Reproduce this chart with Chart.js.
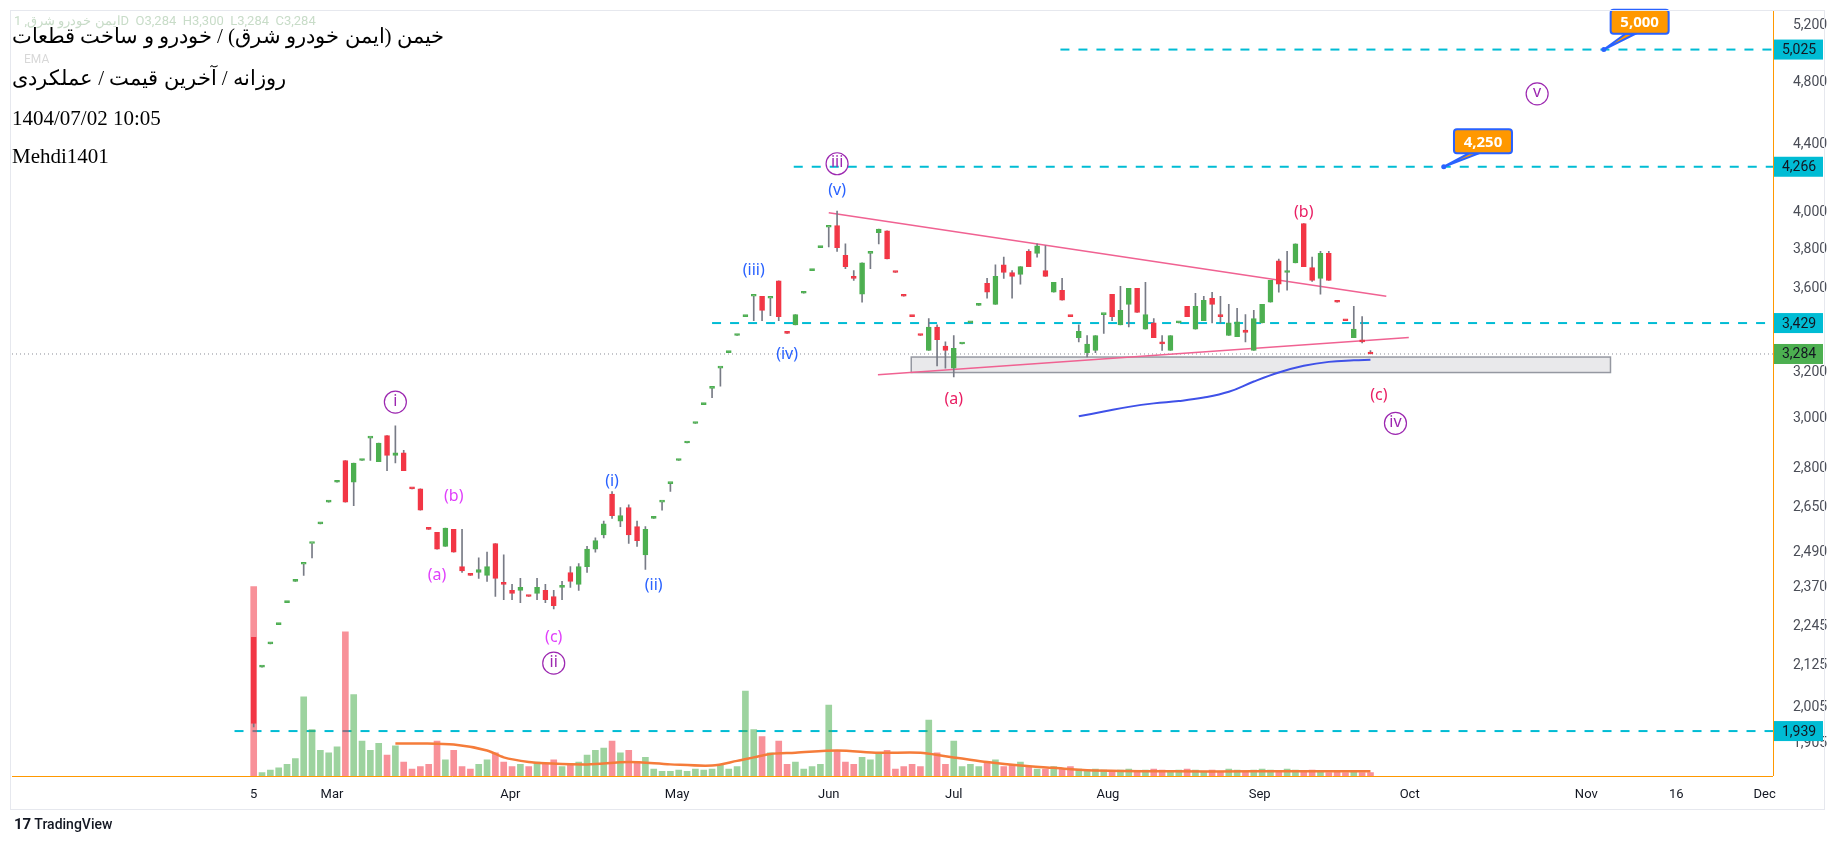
<!DOCTYPE html>
<html>
<head>
<meta charset="utf-8">
<script src="https://cdn.jsdelivr.net/npm/chart.js@4.4.0/dist/chart.umd.min.js"></script>
<style>
  html, body { margin:0; padding:0; background:#fff; }
  #wrap { position:relative; width:1836px; height:843px; overflow:hidden; font-family:Roboto, "Noto Sans", sans-serif; }
  #c { position:absolute; left:0; top:0; }
  .frame { position:absolute; left:10px; top:10px; width:1815px; height:800px; border:1px solid #e6e8ee; box-sizing:border-box; pointer-events:none; }
  .legend { position:absolute; left:12px; font-family:"Liberation Serif", serif; font-size:21px; color:#000; }
  .faint { position:absolute; left:14px; top:13px; font-size:13px; color:#c8dcc8; }
  .faint2 { position:absolute; left:24px; font-size:12px; color:#d8d8d8; }
  .tv { position:absolute; left:14px; top:815px; font-size:14px; color:#131722; font-weight:500; }
</style>
</head>
<body>
<div id="wrap">
  <canvas id="c" width="1836" height="843"></canvas>
  <div class="frame"></div>
  <div class="faint"><span dir="rtl">ایمن خودرو شرق, 1</span>D&nbsp; O3,284&nbsp; H3,300&nbsp; L3,284&nbsp; C3,284</div>
  <div class="faint2" style="top:52px">EMA</div>
  <div class="legend" style="top:24px" dir="rtl">خیمن (ایمن خودرو شرق) / خودرو و ساخت قطعات</div>
  <div class="legend" style="top:66px" dir="rtl">روزانه / آخرین قیمت / عملکردی</div>
  <div class="legend" style="top:106px">1404/07/02 10:05</div>
  <div class="legend" style="top:144px">Mehdi1401</div>
  <div class="tv"><b style="font-size:15px">17</b> TradingView</div>
</div>
<script>
'use strict';

// daily candles (bar index 0 .. 134)
const opens = [2210,2120,2190,2250,2320,2390,2448,2520,2590,2670,2745,2830,2745,2830,2920,2825,2930,2850,2860,2720,
  2720,2570,2560,2510,2570,2440,2410,2420,2410,2520,2380,2360,2360,2340,2350,2360,2340,2370,2420,2380,
  2440,2500,2550,2700,2600,2650,2580,2480,2610,2670,2740,2830,2900,2980,3060,3130,3220,3290,3370,3460,
  3560,3560,3550,3638,3380,3420,3575,3690,3810,3920,3930,3770,3650,3570,3780,3890,3900,3680,3560,3460,
  3370,3300,3410,3320,3220,3330,3430,3515,3625,3520,3720,3680,3670,3790,3780,3690,3580,3590,3460,3360,
  3290,3300,3470,3570,3420,3520,3600,3400,3430,3340,3300,3430,3510,3400,3440,3550,3470,3370,3365,3395,
  3300,3430,3530,3740,3680,3730,3940,3705,3650,3780,3530,3440,3360,3340,3284];
const highs = [2210,2120,2190,2250,2320,2390,2448,2520,2590,2670,2745,2830,2820,2830,2920,2900,2930,2970,2870,2720,
  2720,2570,2560,2575,2570,2570,2410,2470,2490,2520,2480,2380,2400,2340,2400,2380,2360,2390,2440,2450,
  2510,2540,2600,2710,2650,2660,2600,2580,2610,2670,2740,2830,2900,2980,3060,3130,3220,3290,3370,3460,
  3560,3560,3550,3638,3380,3470,3575,3690,3810,3920,4010,3830,3690,3730,3780,3910,3900,3680,3560,3460,
  3370,3450,3420,3340,3370,3330,3430,3515,3650,3720,3760,3690,3710,3800,3830,3820,3630,3650,3460,3420,
  3370,3370,3470,3570,3610,3600,3600,3630,3450,3370,3370,3430,3510,3575,3560,3580,3560,3520,3500,3470,
  3490,3520,3640,3750,3790,3830,3940,3760,3790,3790,3530,3440,3510,3460,3300];
const lows = [1950,2120,2190,2250,2320,2390,2410,2470,2590,2670,2745,2670,2657,2830,2830,2825,2790,2820,2790,2720,
  2640,2570,2500,2510,2490,2420,2410,2400,2390,2340,2330,2330,2320,2340,2330,2320,2300,2330,2370,2360,
  2420,2490,2540,2610,2580,2520,2510,2430,2610,2640,2710,2830,2900,2980,3060,3090,3140,3290,3370,3460,
  3440,3440,3465,3440,3380,3420,3575,3690,3810,3814,3790,3700,3640,3530,3700,3830,3750,3680,3560,3460,
  3370,3300,3230,3220,3180,3330,3430,3515,3550,3520,3650,3550,3620,3710,3760,3660,3580,3540,3460,3340,
  3270,3290,3380,3440,3420,3410,3480,3400,3360,3300,3300,3430,3460,3400,3440,3430,3430,3370,3365,3340,
  3300,3430,3530,3580,3590,3730,3710,3635,3570,3640,3530,3440,3360,3335,3284];
const closes = [1960,2120,2190,2250,2320,2390,2448,2520,2590,2670,2745,2670,2820,2830,2920,2900,2850,2860,2790,2720,
  2640,2570,2500,2575,2490,2425,2410,2430,2440,2400,2380,2350,2370,2340,2370,2330,2310,2370,2390,2440,
  2500,2530,2590,2620,2620,2550,2530,2570,2610,2670,2740,2830,2900,2980,3060,3130,3220,3290,3370,3460,
  3560,3490,3550,3460,3380,3470,3575,3690,3810,3920,3810,3710,3650,3730,3780,3910,3750,3680,3560,3460,
  3370,3410,3350,3300,3310,3330,3430,3515,3580,3660,3680,3660,3710,3710,3820,3660,3630,3540,3460,3390,
  3330,3370,3470,3460,3490,3600,3480,3470,3360,3330,3370,3430,3460,3510,3540,3520,3460,3430,3435,3385,
  3450,3520,3640,3620,3685,3830,3710,3640,3780,3640,3530,3440,3400,3340,3284];
const volumes = [163,3,5,7,10,15,68,40,22,20,25,124,70,30,22,28,18,26,12,6,
  8,10,30,14,22,8,6,10,14,20,12,8,10,8,12,10,14,8,10,12,
  18,22,24,30,20,22,12,16,6,4,4,5,4,6,5,6,10,6,8,73,
  40,34,20,30,10,12,6,8,10,61,22,12,10,16,14,20,22,6,8,10,
  8,48,20,10,30,8,10,8,12,14,8,10,12,8,6,6,8,6,8,6,
  5,6,5,4,5,6,4,5,6,5,4,5,6,5,4,5,4,6,5,4,
  5,6,5,4,6,5,4,5,4,3,4,3,4,3,3];

// volume moving average (read points)
const volMaIdx  = [17,20,24,28,30,33,35,40,45,50,55,58,60,62,65,70,75,80,83,85,88,92,96,100,110,120,134];
const volMaVals = [28,28,27,22,16,12,11,10,12,10,9,13,16,19,20,22,20,20,17,15,12,9,7,5,4,4,4];

// blue price moving average
const maIdx  = [99,102,105,108,111,114,117,120,123,126,129,132,134];
const maVals = [3010,3030,3050,3065,3075,3090,3115,3160,3200,3230,3248,3255,3258];

// axis ticks
const priceTicks = [5200,4800,4400,4000,3800,3600,3200,3000,2800,2650,2490,2370,2245,2125,2005,1905];
const dateTickIdx = [0,9.4,30.8,50.8,69,84,102.5,120.7,138.7,159.9,170.7,181.3];
const dateTickLbl = ['5','Mar','Apr','May','Jun','Jul','Aug','Sep','Oct','Nov','16','Dec'];

// drawings
const hLevels   = [5025,4266,3429,1939];
const hStartIdx = [96.8,64.8,55,-2.3];
const lastPrice = 3284;
const trendUpper = [[69,4000],[135.9,3560]];
const trendLower = [[74.9,3190],[138.6,3360]];
const zoneBox = [78.9,162.8,3270,3200];
const waveText  = ['i','(b)','(a)','(c)','ii','(i)','(ii)','(iii)','(iv)','iii','(v)','(a)','(b)','(c)','iv','v'];
const waveIdx   = [17,24,22,36,36,43,48,60,64,70,70,84,126,135,137,154];
const wavePrice = [3075,2690,2410,2210,2135,2750,2375,3690,3280,4290,4125,3080,4000,3100,2985,4730];
const waveKind  = ['c','m','m','m','c','b','b','b','b','c','b','r','r','r','c','c'];
const calloutText  = ['5,000','4,250'];
const calloutBox   = [[166.3,5225],[147.5,4420]];
const calloutPoint = [[162,5025],[142.8,4266]];

const UP = '#4caf50', DOWN = '#f23645';
const candleColor = closes.map((c, i) => {
  if (c > opens[i]) return UP;
  if (c < opens[i]) return DOWN;
  return (i === 0 || c >= closes[i - 1]) ? UP : DOWN;
});
const volColor = candleColor.map(c => c === UP ? 'rgba(76,175,80,0.55)' : 'rgba(242,54,69,0.55)');

const wicks  = highs.map((h, i) => ({ x: i, y: [lows[i], h] }));
const bodies = opens.map((o, i) => ({ x: i, y: [o, closes[i]] }));
const vols   = volumes.map((v, i) => ({ x: i, y: v }));

const overlay = {
  id: 'overlay',
  beforeDatasetsDraw(chart) {
    const { ctx, chartArea: a } = chart;
    const xs = chart.scales.x, ys = chart.scales.y;
    ctx.save();
    // zone box
    const bx1 = xs.getPixelForValue(zoneBox[0]), bx2 = xs.getPixelForValue(zoneBox[1]);
    const by1 = ys.getPixelForValue(zoneBox[2]), by2 = ys.getPixelForValue(zoneBox[3]);
    ctx.fillStyle = 'rgba(200,200,205,0.4)'; ctx.strokeStyle = '#9598a1'; ctx.lineWidth = 1.5;
    ctx.fillRect(bx1, by1, bx2 - bx1, by2 - by1); ctx.strokeRect(bx1, by1, bx2 - bx1, by2 - by1);
    // last price dotted
    ctx.strokeStyle = '#8a8d96'; ctx.lineWidth = 1; ctx.setLineDash([1, 3]);
    const ly = ys.getPixelForValue(lastPrice);
    ctx.beginPath(); ctx.moveTo(a.left, ly); ctx.lineTo(a.right, ly); ctx.stroke();
    // dashed levels
    ctx.strokeStyle = '#00bcd4'; ctx.lineWidth = 2; ctx.setLineDash([9, 9]);
    hLevels.forEach((p, i) => {
      const y = ys.getPixelForValue(p);
      ctx.beginPath(); ctx.moveTo(xs.getPixelForValue(hStartIdx[i]), y); ctx.lineTo(a.right, y); ctx.stroke();
    });
    ctx.setLineDash([]);
    // trendlines
    ctx.strokeStyle = '#f06292'; ctx.lineWidth = 1.5;
    [trendUpper, trendLower].forEach(t => {
      ctx.beginPath();
      ctx.moveTo(xs.getPixelForValue(t[0][0]), ys.getPixelForValue(t[0][1]));
      ctx.lineTo(xs.getPixelForValue(t[1][0]), ys.getPixelForValue(t[1][1]));
      ctx.stroke();
    });
    ctx.restore();
  },
  afterDraw(chart) {
    const { ctx, chartArea: a } = chart;
    const xs = chart.scales.x, ys = chart.scales.y;
    ctx.save();
    // axis borders
    ctx.strokeStyle = '#ff9800'; ctx.lineWidth = 1;
    ctx.beginPath(); ctx.moveTo(a.right + 0.5, 10); ctx.lineTo(a.right + 0.5, a.bottom); ctx.stroke();
    ctx.beginPath(); ctx.moveTo(a.left, a.bottom + 0.5); ctx.lineTo(a.right, a.bottom + 0.5); ctx.stroke();
    // wave labels
    ctx.textAlign = 'center'; ctx.textBaseline = 'middle';
    const kc = { c: '#9c27b0', m: '#e040fb', b: '#2962ff', r: '#e91e63' };
    waveText.forEach((t, i) => {
      const x = xs.getPixelForValue(waveIdx[i]), y = ys.getPixelForValue(wavePrice[i]);
      ctx.fillStyle = kc[waveKind[i]];
      ctx.font = '16px "Noto Sans", sans-serif';
      ctx.fillText(t, x, y);
      if (waveKind[i] === 'c') {
        ctx.strokeStyle = kc.c; ctx.lineWidth = 1.2;
        ctx.beginPath(); ctx.arc(x, y + 1, 11, 0, Math.PI * 2); ctx.stroke();
      }
    });
    // callouts
    calloutText.forEach((t, i) => {
      const bx = xs.getPixelForValue(calloutBox[i][0]), by = ys.getPixelForValue(calloutBox[i][1]);
      const px = xs.getPixelForValue(calloutPoint[i][0]), py = ys.getPixelForValue(calloutPoint[i][1]);
      ctx.strokeStyle = '#2962ff'; ctx.fillStyle = '#ff9800'; ctx.lineWidth = 2;
      ctx.beginPath(); ctx.moveTo(px, py); ctx.lineTo(bx - 14, by + 12); ctx.lineTo(bx - 4, by + 12); ctx.closePath();
      ctx.fill(); ctx.stroke();
      ctx.beginPath(); ctx.roundRect(bx - 29, by - 12, 58, 24, 3); ctx.fill(); ctx.stroke();
      ctx.fillStyle = '#2962ff'; ctx.beginPath(); ctx.arc(px, py, 2.5, 0, Math.PI * 2); ctx.fill();
      ctx.fillStyle = '#fff'; ctx.font = 'bold 15px "Noto Sans", sans-serif';
      ctx.fillText(t, bx, by + 1);
    });
    // axis badges
    const badges = hLevels.map(p => [p, '#00bcd4']).concat([[lastPrice, '#4caf50']]);
    ctx.font = '14px Roboto, sans-serif';
    badges.forEach(([p, col]) => {
      const y = ys.getPixelForValue(p);
      ctx.fillStyle = col; ctx.fillRect(a.right + 1, y - 10, 49, 20);
      ctx.fillStyle = '#131722'; ctx.fillText(p.toLocaleString('en-US'), a.right + 26, y + 1);
    });
    ctx.restore();
  }
};

new Chart(document.getElementById('c'), {
  type: 'bar',
  data: {
    datasets: [
      { type: 'line', data: maIdx.map((x, i) => ({ x, y: maVals[i] })), borderColor: '#3f51e8', borderWidth: 2, pointRadius: 0, tension: 0.4, yAxisID: 'y', order: 0 },
      { type: 'line', data: volMaIdx.map((x, i) => ({ x, y: volMaVals[i] })), borderColor: '#f57c3a', borderWidth: 2.5, pointRadius: 0, tension: 0.3, yAxisID: 'yv', order: 1 },
      { data: wicks, backgroundColor: '#787b86', barThickness: 1, minBarLength: 1, grouped: false, yAxisID: 'y', order: 2 },
      { data: bodies, backgroundColor: candleColor, borderColor: candleColor, borderWidth: 1, borderSkipped: false, barThickness: 5, minBarLength: 2, grouped: false, yAxisID: 'y', order: 1 },
      { data: vols, backgroundColor: volColor, barThickness: 6, grouped: false, yAxisID: 'yv', order: 3 }
    ]
  },
  options: {
    responsive: false, animation: false,
    layout: { padding: { left: 12, top: 0, right: 0, bottom: 35 } },
    plugins: { legend: { display: false }, tooltip: { enabled: false } },
    scales: {
      x: {
        type: 'linear', min: -29, max: 182.3, offset: false,
        grid: { display: false }, border: { display: false },
        afterBuildTicks: s => { s.ticks = dateTickIdx.map(v => ({ value: v })); },
        afterFit: s => { s.height = 32; },
        ticks: {
          autoSkip: false, maxRotation: 0, color: '#131722', font: { size: 13, family: 'Roboto' },
          callback: v => dateTickLbl[dateTickIdx.indexOf(v)]
        }
      },
      y: {
        type: 'logarithmic', position: 'right', min: 1821, max: 5234,
        grid: { display: false }, border: { display: false },
        afterBuildTicks: s => { s.ticks = priceTicks.map(v => ({ value: v })); },
        afterFit: s => { s.width = 63; },
        ticks: { color: '#4a4d57', font: { size: 14, family: 'Roboto' }, padding: 12, callback: v => Number(v).toLocaleString('en-US') }
      },
      yv: { display: false, min: 0, max: 650 }
    }
  },
  plugins: [overlay]
});
</script>
</body>
</html>
